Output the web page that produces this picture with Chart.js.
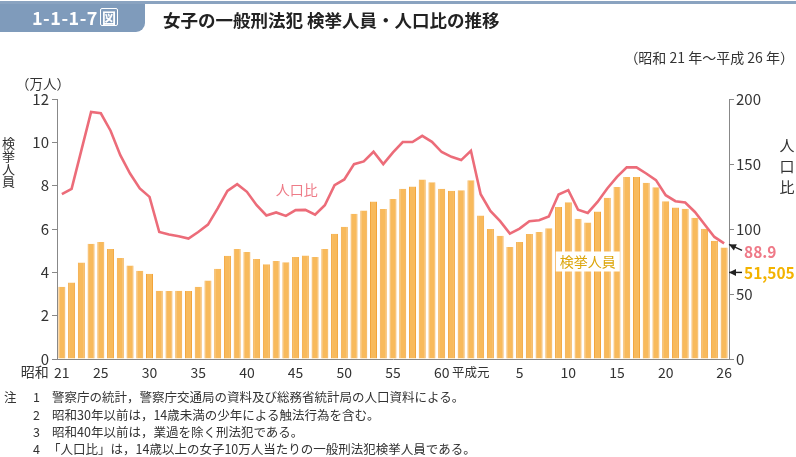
<!DOCTYPE html>
<html><head><meta charset="utf-8">
<script src="https://cdn.jsdelivr.net/npm/chart.js@4.4.1/dist/chart.umd.min.js"></script>
<style>
html,body{margin:0;padding:0;background:#fff;}
body{width:796px;height:457px;position:relative;overflow:hidden;font-family:"Noto Sans CJK JP","Noto Sans",sans-serif;color:#333;}
#wrap{position:absolute;left:0;top:0;width:796px;height:457px;}
.abs{position:absolute;white-space:nowrap;}
#topline{left:0;top:1px;width:796px;height:3px;background:#8aa3c0;}
#tab{left:0;top:4px;width:145px;height:28px;background:#7f9bbb;border-bottom-right-radius:9px;}
#tabtxt{left:32px;top:5px;font-size:18px;font-weight:bold;color:#fff;line-height:24px;letter-spacing:0.5px;}
#tabtxt span{display:inline-block;border:1.5px solid #fff;border-radius:2px;font-size:14px;line-height:16px;padding:0 1px;margin-left:2px;vertical-align:2px;}
#title{left:163px;top:8px;font-size:17.5px;font-weight:bold;color:#222;line-height:24px;}
#period{right:2px;top:47px;font-size:14px;line-height:20px;color:#333;}
#unit{left:16px;top:73px;font-size:13.5px;line-height:20px;}
#ltitle{left:1px;top:137px;width:15px;font-size:13px;line-height:12.8px;text-align:center;white-space:normal;}
#rtitle{left:779px;top:134px;width:16px;font-size:15px;line-height:21px;text-align:center;white-space:normal;}
.note{font-size:12.5px;line-height:16px;color:#333;}
</style></head>
<body>
<div id="wrap"><canvas id="c" width="796" height="457"></canvas></div>
<div class="abs" id="topline"></div>
<div class="abs" id="tab"></div>
<div class="abs" id="tabtxt">1-1-1-7<span>図</span></div>
<div class="abs" id="title">女子の一般刑法犯 検挙人員・人口比の推移</div>
<div class="abs" id="period">（昭和 21 年～平成 26 年）</div>
<div class="abs" id="unit">（万人）</div>
<div class="abs" id="ltitle">検挙人員</div>
<div class="abs" id="rtitle">人口比</div>
<div class="abs note" style="left:4px;top:389px;">注</div>
<div class="abs note" style="left:33px;top:389px;">1</div>
<div class="abs note" style="left:52px;top:389px;">警察庁の統計，警察庁交通局の資料及び総務省統計局の人口資料による。</div>
<div class="abs note" style="left:33px;top:407px;">2</div>
<div class="abs note" style="left:52px;top:407px;">昭和30年以前は，14歳未満の少年による触法行為を含む。</div>
<div class="abs note" style="left:33px;top:424px;">3</div>
<div class="abs note" style="left:52px;top:424px;">昭和40年以前は，業過を除く刑法犯である。</div>
<div class="abs note" style="left:33px;top:441px;">4</div>
<div class="abs note" style="left:48px;top:441px;">「人口比」は，14歳以上の女子10万人当たりの一般刑法犯検挙人員である。</div>
<script>
// ---- data ----
const years = [
 "昭和21","昭和22","昭和23","昭和24","昭和25","昭和26","昭和27","昭和28","昭和29","昭和30",
 "昭和31","昭和32","昭和33","昭和34","昭和35","昭和36","昭和37","昭和38","昭和39","昭和40",
 "昭和41","昭和42","昭和43","昭和44","昭和45","昭和46","昭和47","昭和48","昭和49","昭和50",
 "昭和51","昭和52","昭和53","昭和54","昭和55","昭和56","昭和57","昭和58","昭和59","昭和60",
 "昭和61","昭和62","昭和63","平成元","平成2","平成3","平成4","平成5","平成6","平成7",
 "平成8","平成9","平成10","平成11","平成12","平成13","平成14","平成15","平成16","平成17",
 "平成18","平成19","平成20","平成21","平成22","平成23","平成24","平成25","平成26"];
// 検挙人員 (万人)
const arrests = [
 3.33,3.53,4.45,5.32,5.40,5.08,4.66,4.31,4.07,3.93,
 3.15,3.14,3.15,3.14,3.34,3.62,4.17,4.77,5.08,4.94,
 4.62,4.37,4.52,4.46,4.71,4.78,4.71,5.08,5.78,6.10,
 6.70,6.85,7.27,6.92,7.39,7.86,7.96,8.28,8.16,7.86,
 7.76,7.79,8.25,6.62,6.00,5.69,5.17,5.40,5.77,5.86,
 6.04,7.01,7.24,6.47,6.30,6.81,7.44,7.94,8.40,8.40,
 8.14,7.93,7.28,6.99,6.93,6.52,6.01,5.46,5.15];
// 人口比
const ratio = [
 126.8,130.9,160.5,190.0,189.0,175.6,156.8,142.7,131.2,124.7,
 97.7,95.7,94.4,92.6,97.7,103.4,115.8,129.3,134.5,128.6,
 118.3,110.4,112.7,110.1,114.5,114.7,111.0,118.3,133.7,138.1,
 149.9,152.0,159.4,149.9,158.9,166.9,166.9,171.7,167.1,159.2,
 155.5,153.0,160.2,126.8,113.9,106.0,96.5,100.3,106.0,106.7,
 109.6,126.5,129.9,114.8,112.4,120.8,131.2,140.1,147.4,147.4,
 142.7,137.6,126.0,121.4,120.4,113.1,103.4,93.9,88.9];
const xTickIndex = [0,4,9,14,19,24,29,34,39,47,52,57,62,68];
const xTickText  = ["21","25","30","35","40","45","50","55","60","5","10","15","20","26"];
const leftTicks = [0,2,4,6,8,10,12];
const rightTicks = [0,50,100,150,200];
const lastRatioLabel = "88.9";
const lastArrestLabel = "51,505";

const FONT = '"Noto Sans CJK JP","Noto Sans",sans-serif';

const annot = {
  id:'annot',
  afterDraw(chart){
    const ctx = chart.ctx, x = chart.scales.x, yl = chart.scales.y, yr = chart.scales.y1;
    const area = chart.chartArea;
    ctx.save();
    const tickY = area.bottom + 13;
    // era prefixes
    ctx.fillStyle = '#333';
    ctx.font = '14px ' + FONT;
    ctx.textAlign = 'right'; ctx.textBaseline = 'middle';
    ctx.fillText('昭和', x.getPixelForValue(0) - 13, tickY);
    ctx.textAlign = 'center';
    ctx.font = '12.5px ' + FONT;
    ctx.fillText('平成元', x.getPixelForValue(43) - 10, tickY);
    // 人口比 label
    ctx.font = '14px ' + FONT;
    ctx.fillStyle = '#ee7b87';
    ctx.fillText('人口比', x.getPixelForValue(23) + 11, yr.getPixelForValue(130));
    // 検挙人員 label with white box
    const bx = x.getPixelForValue(54), by = yl.getPixelForValue(4.5);
    ctx.font = '14px ' + FONT;
    const w = ctx.measureText('検挙人員').width + 8;
    ctx.fillStyle = '#fff';
    ctx.fillRect(bx - w/2, by - 10, w, 20);
    ctx.fillStyle = '#dca60c';
    ctx.fillText('検挙人員', bx, by);
    // arrows
    const n = ratio.length - 1;
    const ly = yr.getPixelForValue(ratio[n]);
    const ay1 = ly + 1, ay2 = yl.getPixelForValue(arrests[n]) + 25;
    function arrow(x1,y1,x2,y2){
      ctx.strokeStyle='#222'; ctx.fillStyle='#222'; ctx.lineWidth=1.4;
      ctx.beginPath(); ctx.moveTo(x1,y1); ctx.lineTo(x2,y2); ctx.stroke();
      const a = Math.atan2(y2-y1,x2-x1), L=7, W=3.5;
      ctx.beginPath();
      ctx.moveTo(x2,y2);
      ctx.lineTo(x2 - L*Math.cos(a) + W*Math.sin(a), y2 - L*Math.sin(a) - W*Math.cos(a));
      ctx.lineTo(x2 - L*Math.cos(a) - W*Math.sin(a), y2 - L*Math.sin(a) + W*Math.cos(a));
      ctx.closePath(); ctx.fill();
    }
    arrow(area.right + 13, ay1 + 6, area.right, ay1);
    arrow(area.right + 13, ay2, area.right, ay2);
    ctx.font = 'bold 15.5px ' + FONT;
    ctx.textAlign = 'left';
    ctx.fillStyle = '#ef7a88';
    ctx.fillText(lastRatioLabel, area.right + 15, ay1 + 8);
    ctx.fillStyle = '#f3b300';
    ctx.fillText(lastArrestLabel, area.right + 15, ay2 + 1);
    ctx.restore();
  }
};

new Chart(document.getElementById('c'), {
  data: {
    labels: years,
    datasets: [
      { type:'line', label:'人口比', data: ratio, yAxisID:'y1', order:1,
        borderColor:'#ec6c79', borderWidth:2.6, pointRadius:0, tension:0, fill:false },
      { type:'bar', label:'検挙人員', data: arrests, yAxisID:'y', order:2,
        backgroundColor:'#f8ba5c', borderColor:'#f2a43a', borderWidth:{left:1,right:1,top:0,bottom:0},
        borderSkipped:false, barPercentage:0.72, categoryPercentage:1.0 }
    ]
  },
  options: {
    responsive:false, animation:false, devicePixelRatio:1,
    layout:{ padding:{ left:0, right:0, top:99, bottom:68 } },
    plugins:{ legend:{display:false}, tooltip:{enabled:false} },
    scales:{
      x:{
        offset:true,
        grid:{ display:false, drawTicks:false },
        border:{ display:true, color:'#888', width:1 },
        ticks:{ autoSkip:false, maxRotation:0, padding:5, color:'#333',
          font:{ family:FONT, size:14 },
          callback:(v,i)=>{ const k = xTickIndex.indexOf(i); return k>=0 ? xTickText[k] : ''; } },
        afterFit:(s)=>{ s.height = 30; }
      },
      y:{
        position:'left', min:0, max:12,
        afterBuildTicks:(s)=>{ s.ticks = leftTicks.map(v=>({value:v})); },
        grid:{ drawOnChartArea:false, drawTicks:true, tickLength:5, color:'#888' },
        border:{ color:'#888', width:1 },
        ticks:{ padding:3, color:'#333', font:{ family:FONT, size:15 } },
        afterFit:(s)=>{ s.width = 57; }
      },
      y1:{
        position:'right', min:0, max:200,
        afterBuildTicks:(s)=>{ s.ticks = rightTicks.map(v=>({value:v})); },
        grid:{ drawOnChartArea:false, drawTicks:true, tickLength:5, color:'#888' },
        border:{ color:'#888', width:1 },
        ticks:{ padding:2, color:'#333', font:{ family:FONT, size:15 } },
        afterFit:(s)=>{ s.width = 67; }
      }
    }
  },
  plugins:[annot]
});
</script>
</body></html>
